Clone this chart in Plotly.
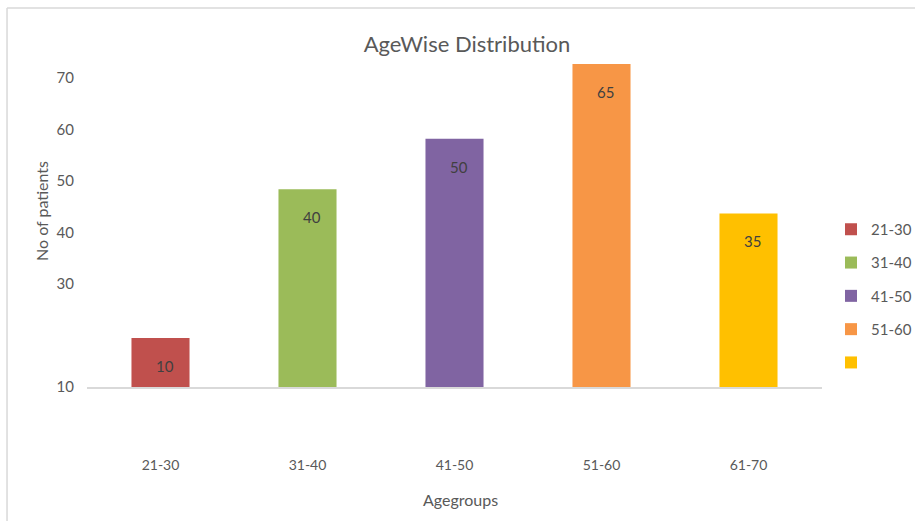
import plotly.graph_objects as go

# ---- data ----
categories = ["21-30", "31-40", "41-50", "51-60", "61-70"]
legend_names = ["21-30", "31-40", "41-50", "51-60", ""]
bar_heights = [19.5, 48.4, 58.2, 72.7, 43.7]      # heights as read against the y axis
data_labels = ["10", "40", "50", "65", "35"]       # labels printed on the bars
colors = ["#C0504D", "#9BBB59", "#8064A2", "#F79646", "#FFC000"]
y_tick_vals = [10, 30, 40, 50, 60, 70]
y_tick_text = ["10", "30", "40", "50", "60", "70"]

FONT = "Lato, Carlito, Calibri, sans-serif"
GRAY = "#595959"

fig = go.Figure()
for i, cat in enumerate(categories):
    fig.add_trace(go.Bar(
        x=[cat], y=[bar_heights[i]],
        name=legend_names[i],
        legendgroup="g%d" % i,
        marker=dict(color=colors[i], line=dict(width=0)),
        hoverinfo="skip",
    ))

for i, cat in enumerate(categories):
    fig.add_annotation(
        x=cat, y=bar_heights[i], xref="x", yref="y",
        text=data_labels[i], showarrow=False,
        yshift=-28, xshift=4,
        font=dict(family=FONT, size=15, color="#404040"),
    )

# axis titles
fig.add_annotation(x=(41 - 87) / 735, y=(387 - 211) / 330, xref="paper", yref="paper",
                   text="No of patients", textangle=-90, showarrow=False,
                   xanchor="center", yanchor="middle",
                   font=dict(family=FONT, size=16, color=GRAY))
fig.add_annotation(x=(460 - 87) / 735, y=(387 - 500) / 330, xref="paper", yref="paper",
                   text="Agegroups", showarrow=False,
                   xanchor="center", yanchor="middle",
                   font=dict(family=FONT, size=16, color=GRAY))

# chart border (top and left edges visible)
fig.add_shape(type="line", xref="paper", yref="paper",
              x0=-0.1088, x1=1.13, y0=1.1485, y1=1.1485,
              line=dict(color="#D9D9D9", width=1.5))
fig.add_shape(type="line", xref="paper", yref="paper",
              x0=-0.1088, x1=-0.1088, y0=1.1485, y1=-0.42,
              line=dict(color="#D9D9D9", width=1.5))

fig.update_layout(
    width=915, height=521,
    margin=dict(l=87, r=93, t=57, b=134),
    paper_bgcolor="white", plot_bgcolor="white",
    barmode="overlay", bargap=0.605,
    font=dict(family=FONT, size=14, color=GRAY),
    title=dict(text="AgeWise Distribution", x=467/915, xref="container", xanchor="center",
               y=1-44/521, yref="container", yanchor="middle",
               font=dict(family=FONT, size=22, color=GRAY)),
    legend=dict(x=831/915, xref="container", xanchor="left",
                y=1-213/521, yref="container", yanchor="top",
                tracegroupgap=10.8, font=dict(family=FONT, size=15, color=GRAY),
                bgcolor="rgba(0,0,0,0)"),
    showlegend=True,
)
fig.update_xaxes(
    type="category", categoryorder="array", categoryarray=categories,
    range=[-0.5, 4.5], showgrid=False, showline=True, linecolor="#D9D9D9", linewidth=1.5,
    ticks="", ticklabelstandoff=64, zeroline=False,
    tickfont=dict(family=FONT, size=14, color=GRAY),
    automargin=False,
)
fig.update_yaxes(
    range=[10, 74.08], showgrid=False, showline=False, zeroline=False,
    tickmode="array", tickvals=y_tick_vals, ticktext=y_tick_text,
    ticks="", ticklabelstandoff=12,
    tickfont=dict(family=FONT, size=15, color=GRAY),
    automargin=False,
)

fig.write_html("out.html")
